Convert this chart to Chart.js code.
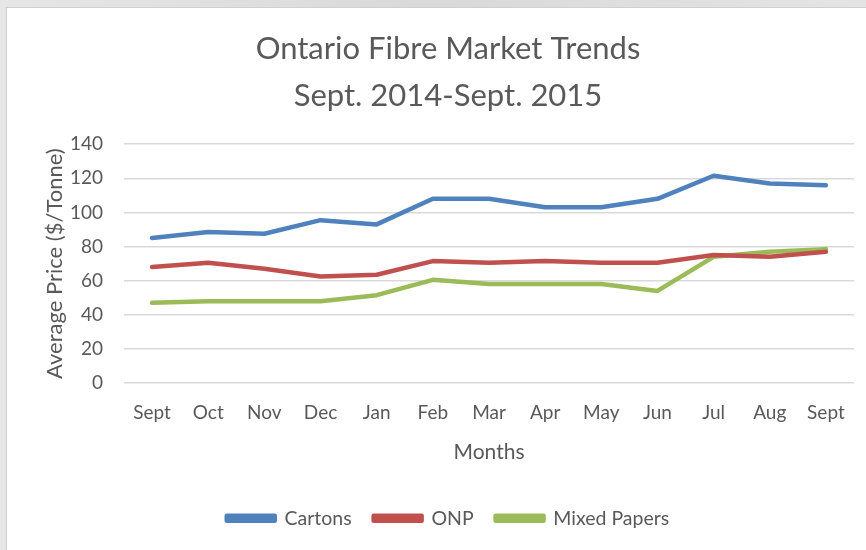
<!DOCTYPE html>
<html>
<head>
<meta charset="utf-8">
<script src="https://cdn.jsdelivr.net/npm/chart.js@4.4.0/dist/chart.umd.min.js"></script>
<style>
  html, body { margin: 0; padding: 0; }
  body {
    width: 866px; height: 550px; overflow: hidden;
    background: #e2e2e2;
    background-image: linear-gradient(90deg, #e6e6e6 0%, #d9d9d9 50%, #e4e4e4 100%);
  }
  #frame {
    position: absolute; left: 6px; top: 7px; width: 860px; height: 543px;
    background: #ffffff;
    border-left: 1px solid #d0d0d0; border-top: 1px solid #d0d0d0;
    box-sizing: border-box;
  }
</style>
</head>
<body>
<div id="frame"><canvas id="trendChart" width="859" height="542"></canvas></div>
<script>
// Chart data
const months = ['Sept', 'Oct', 'Nov', 'Dec', 'Jan', 'Feb', 'Mar', 'Apr', 'May', 'Jun', 'Jul', 'Aug', 'Sept'];
const cartons = [85, 88.5, 87.5, 95.5, 93, 108, 108, 103, 103, 108, 121.5, 117, 116];
const onp = [68, 70.5, 67, 62.5, 63.5, 71.5, 70.5, 71.5, 70.5, 70.5, 75, 74, 77];
const mixedPapers = [47, 48, 48, 48, 51.5, 60.5, 58, 58, 58, 54, 74, 77, 78.5];
const yTicks = [0, 20, 40, 60, 80, 100, 120, 140];

const textColor = '#595959';
const fontFamily = 'Lato, "Open Sans", sans-serif';

function lineSet(label, data, color) {
    return {
        label: label,
        data: data,
        borderColor: color,
        backgroundColor: color,
        borderWidth: 4.5,
        borderCapStyle: 'round',
        borderJoinStyle: 'round',
        pointRadius: 0,
        tension: 0,
        fill: false
    };
}

const ctx = document.getElementById('trendChart').getContext('2d');
const trendChart = new Chart(ctx, {
    type: 'line',
    data: {
        labels: months,
        datasets: [
            lineSet('Cartons', cartons, '#4f81bd'),
            lineSet('ONP', onp, '#c0504d'),
            lineSet('Mixed Papers', mixedPapers, '#9bbb59')
        ]
    },
    options: {
        responsive: false,
        animation: false,
        layout: { padding: { left: 35, right: 12, top: 0, bottom: 12 } },
        scales: {
            x: {
                offset: true,
                grid: { display: false },
                border: { display: false },
                ticks: { color: textColor, padding: 10, font: { family: fontFamily, size: 19 } },
                title: {
                    display: true,
                    text: 'Months',
                    color: textColor,
                    font: { family: fontFamily, size: 21 },
                    padding: { top: 0, bottom: 21.5 }
                },
                afterFit: (scale) => { scale.height = 103.5; }
            },
            y: {
                min: 0,
                max: 140,
                afterBuildTicks: (scale) => { scale.ticks = yTicks.map(v => ({ value: v })); },
                grid: { color: '#d9d9d9', lineWidth: 1.5, drawTicks: false },
                border: { display: false },
                ticks: { color: textColor, padding: 21, font: { family: fontFamily, size: 19 } },
                title: {
                    display: true,
                    text: 'Average Price ($/Tonne)',
                    color: textColor,
                    font: { family: fontFamily, size: 22 },
                    padding: { top: 0, bottom: 0 }
                },
                afterFit: (scale) => { scale.width = 82; }
            }
        },
        plugins: {
            title: {
                display: true,
                text: ['Ontario Fibre Market Trends', 'Sept. 2014-Sept. 2015'],
                color: textColor,
                font: { family: fontFamily, size: 31, weight: 'normal', lineHeight: 1.52 },
                padding: { top: 17, bottom: 25 }
            },
            legend: {
                position: 'bottom',
                labels: {
                    color: textColor,
                    font: { family: fontFamily, size: 19.5 },
                    boxWidth: 48,
                    boxHeight: 5,
                    padding: 22
                }
            },
            tooltip: { enabled: false }
        }
    }
});
</script>
</body>
</html>
